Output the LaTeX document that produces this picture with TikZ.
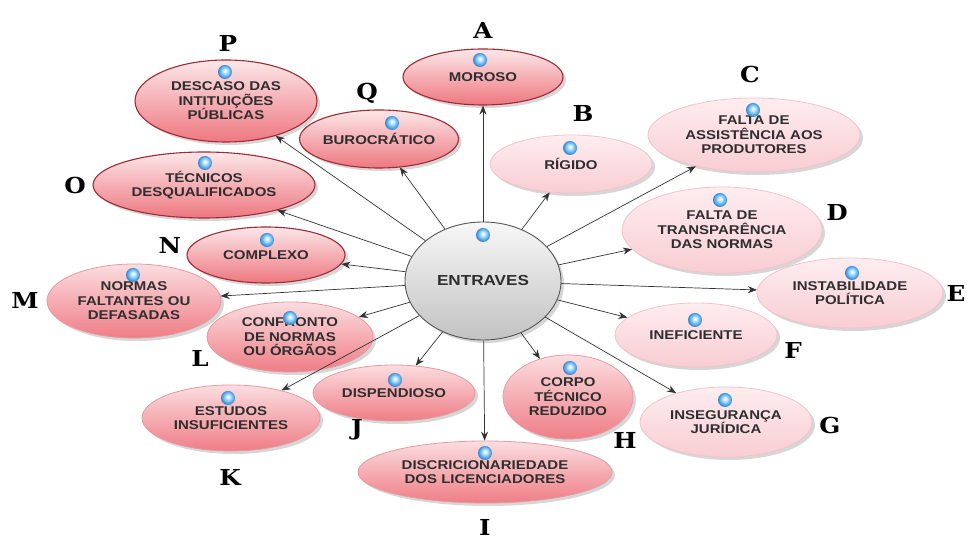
\documentclass[tikz,border=0pt]{standalone}
\usepackage{fontspec}
\setmainfont{Liberation Sans}
\newfontfamily\nodefont[FakeStretch=1.18]{Liberation Sans}
\newfontfamily\tagfont[FakeStretch=1.12]{DejaVu Serif}
\usetikzlibrary{shapes.geometric,arrows.meta,shadows}

\definecolor{txtgray}{HTML}{2E2E2E}
\definecolor{linkgray}{HTML}{333333}
\definecolor{rimdark}{HTML}{9E2B33}
\definecolor{rimmid}{HTML}{E59AA0}
\definecolor{rimpale}{HTML}{F3C3CA}
\definecolor{redtop}{HTML}{FCE7E9}
\definecolor{redbot}{HTML}{EE7780}
\definecolor{midtop}{HTML}{FBDDE0}
\definecolor{midbot}{HTML}{EF7D86}
\definecolor{paletop}{HTML}{FEEDEF}
\definecolor{palebot}{HTML}{F8CDD3}
\definecolor{hubtop}{HTML}{F7F7F7}
\definecolor{hubbot}{HTML}{C2C2C2}
\definecolor{hubrim}{HTML}{555555}
\definecolor{beadlight}{HTML}{C4EAFF}
\definecolor{beadmid}{HTML}{5FB2EC}
\definecolor{beaddark}{HTML}{2366B8}

% glossy blue bead
\pgfdeclareradialshading{bead}{\pgfpoint{0bp}{5bp}}{%
  color(0bp)=(white); color(7bp)=(beadlight); color(18bp)=(beadmid);
  color(30bp)=(beaddark); color(50bp)=(beaddark)}

\begin{document}
\begin{tikzpicture}[x=1pt,y=1pt,
  topic/.style={ellipse, inner sep=0pt, align=center, text=txtgray,
    font=\nodefont\bfseries\fontsize{12.7}{14.5}\selectfont,
    drop shadow={shadow xshift=3pt, shadow yshift=-3pt, opacity=0.16, fill=black}},
  strong/.style={topic, draw=rimdark, line width=1.1pt, top color=redtop, bottom color=redbot},
  medium/.style={topic, draw=rimmid, line width=0.8pt, top color=midtop, bottom color=midbot},
  pale/.style={topic, draw=rimpale, line width=0.8pt, top color=paletop, bottom color=palebot},
  hub/.style={topic, draw=hubrim, line width=0.9pt, top color=hubtop, bottom color=hubbot,
    font=\nodefont\bfseries\fontsize{14.5}{16}\selectfont},
  tag/.style={font=\tagfont\bfseries\fontsize{22}{22}\selectfont, text=black, inner sep=0pt},
  bead/.style={circle, minimum size=14pt, inner sep=0pt, shading=bead},
  link/.style={draw=linkgray, line width=0.7pt, -{Stealth[length=9pt,width=7pt]}}]
\useasboundingbox (0,0) rectangle (967,540);
\fill[white] (0,0) rectangle (967,540);

% central concept
\node[hub, minimum width=156pt, minimum height=118pt] (hubnode) at (483,259) {ENTRAVES};

% surrounding concepts
\node[strong, minimum width=160pt, minimum height=56pt] (A) at (483,463) {MOROSO};
\node[pale,   minimum width=162pt, minimum height=58pt] (B) at (571,376) {RÍGIDO};
\node[pale,   minimum width=212pt, minimum height=74pt] (C) at (754,405) {FALTA DE\\ASSISTÊNCIA AOS\\PRODUTORES};
\node[pale,   minimum width=200pt, minimum height=86pt] (D) at (722,310) {FALTA DE\\TRANSPARÊNCIA\\DAS NORMAS};
\node[pale,   minimum width=186pt, minimum height=70pt] (E) at (850,247) {INSTABILIDADE\\POLÍTICA};
\node[pale,   minimum width=162pt, minimum height=64pt] (F) at (696,205) {INEFICIENTE};
\node[pale,   minimum width=172pt, minimum height=70pt] (G) at (726,118) {INSEGURANÇA\\JURÍDICA};
\node[medium, minimum width=130pt, minimum height=84pt] (H) at (568,143) {CORPO\\TÉCNICO\\REDUZIDO};
\node[medium, minimum width=254pt, minimum height=62pt] (I) at (485,68)  {DISCRICIONARIEDADE\\DOS LICENCIADORES};
\node[medium, minimum width=162pt, minimum height=56pt] (J) at (394,147) {DISPENDIOSO};
\node[medium, minimum width=178pt, minimum height=66pt] (K) at (231,122) {ESTUDOS\\INSUFICIENTES};
\node[medium, minimum width=166pt, minimum height=70pt] (L) at (290,203) {CONFRONTO\\DE NORMAS\\OU ÓRGÃOS};
\node[medium, minimum width=174pt, minimum height=74pt] (M) at (134,239) {NORMAS\\FALTANTES OU\\DEFASADAS};
\node[strong, minimum width=158pt, minimum height=56pt] (N) at (266,285) {COMPLEXO};
\node[strong, minimum width=222pt, minimum height=66pt] (O) at (204,355) {TÉCNICOS\\DESQUALIFICADOS};
\node[strong, minimum width=182pt, minimum height=82pt] (P) at (226,439) {DESCASO DAS\\INTITUIÇÕES\\PÚBLICAS};
\node[strong, minimum width=156pt, minimum height=58pt] (Q) at (379,401) {BUROCRÁTICO};

% connectors from the centre
\foreach \t in {A,B,C,D,E,F,G,H,I,J,K,L,M,N,O,P,Q}
  \draw[link] (hubnode) -- (\t);

% blue beads
\node[bead] (bhub) at (483,305) {};
\node[bead] (bA) at (480,480) {};
\node[bead] (bB) at (570,392) {};
\node[bead] (bC) at (753,430) {};
\node[bead] (bD) at (720,340) {};
\node[bead] (bE) at (852,267) {};
\node[bead] (bF) at (695,220) {};
\node[bead] (bG) at (725,140) {};
\node[bead] (bH) at (570,172) {};
\node[bead] (bI) at (485,87)  {};
\node[bead] (bJ) at (395,160) {};
\node[bead] (bK) at (228,142) {};
\node[bead] (bL) at (290,222) {};
\node[bead] (bM) at (133,265) {};
\node[bead] (bN) at (267,300) {};
\node[bead] (bO) at (205,377) {};
\node[bead] (bP) at (225,468) {};
\node[bead] (bQ) at (392,417) {};

% letter tags
\node[tag] (tA) at (483,510) {A};
\node[tag] (tB) at (583,427) {B};
\node[tag] (tC) at (750,465) {C};
\node[tag] (tD) at (837,328) {D};
\node[tag] (tE) at (956,247) {E};
\node[tag] (tF) at (793,190) {F};
\node[tag] (tG) at (830,115) {G};
\node[tag] (tH) at (625,100) {H};
\node[tag] (tI) at (485,13)  {I};
\node[tag] (tJ) at (357,110) {J};
\node[tag] (tK) at (230,63)  {K};
\node[tag] (tL) at (200,182) {L};
\node[tag] (tM) at (25,240)  {M};
\node[tag] (tN) at (170,295) {N};
\node[tag] (tO) at (75,355)  {O};
\node[tag] (tP) at (228,497) {P};
\node[tag] (tQ) at (367,447) {Q};
\end{tikzpicture}
\end{document}
